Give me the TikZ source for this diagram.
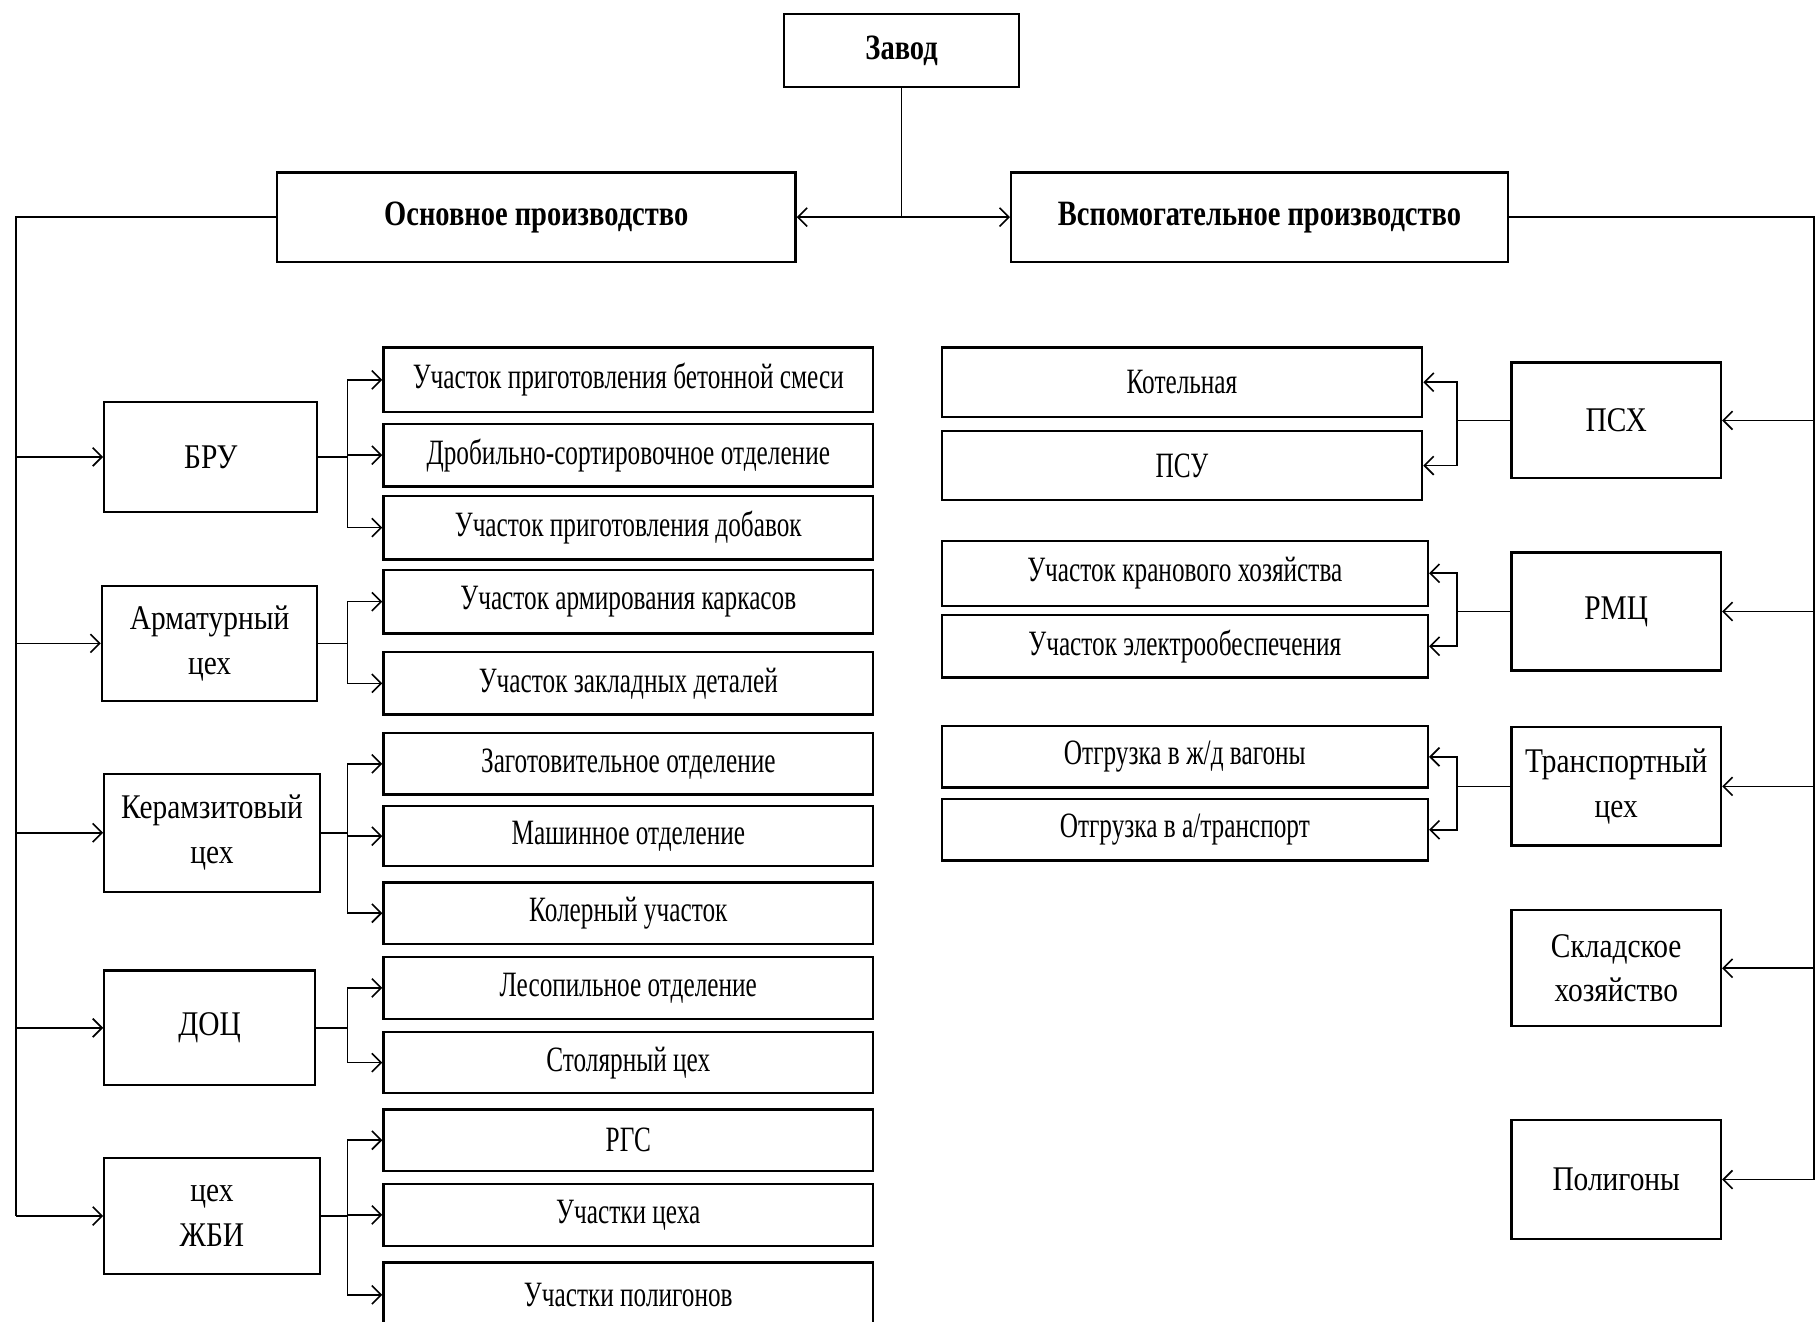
\documentclass[tikz,border=0pt]{standalone}
\usepackage{fontspec}
\setmainfont{Liberation Serif}
\newfontfamily\condf[FakeStretch=0.71]{Liberation Serif}
\newfontfamily\labf[FakeStretch=0.85]{Liberation Serif}
\newfontfamily\headf[FakeStretch=0.8]{Liberation Serif}
\usetikzlibrary{arrows.meta}
\begin{document}
\begin{tikzpicture}[x=0.02cm,y=-0.02cm,
  box/.style={draw,line width=1.1pt,inner sep=0pt,align=center},
  sub/.style={box,font=\condf\fontsize{17.5}{20}\selectfont},
  lab/.style={box,font=\labf\fontsize{17}{22}\selectfont},
  head/.style={box,font=\headf\bfseries\fontsize{17.5}{20}\selectfont},
  conn/.style={line width=0.8pt},
  arr/.style={conn,-{Straight Barb[length=1.6mm,width=3.2mm]}}]
\useasboundingbox (0,0) rectangle (1568,1141);
% top level
\node[head,minimum width=4.06cm,minimum height=1.26cm] (zavod) at (778.5,43.5) {Завод};
\node[head,minimum width=8.96cm,minimum height=1.54cm] (osn) at (463,187.5) {Основное производство};
\node[head,minimum width=8.58cm,minimum height=1.54cm] (vsp) at (1087.5,187.5) {Вспомогательное производство};
% left column
\node[lab,minimum width=3.68cm,minimum height=1.9cm] (bru) at (182,394.5) {БРУ};
\node[lab,minimum width=3.72cm,minimum height=1.98cm] (arm) at (181,555.5) {Арматурный\\цех};
\node[lab,minimum width=3.72cm,minimum height=2.04cm] (ker) at (183,719) {Керамзитовый\\цех};
\node[lab,minimum width=3.64cm,minimum height=1.98cm] (doc) at (181,887.5) {ДОЦ};
\node[lab,minimum width=3.72cm,minimum height=2.0cm] (zbi) at (183,1050) {цех\\ЖБИ};
% sub boxes left
\node[sub,minimum width=8.46cm,minimum height=1.12cm] (s1) at (542.5,328) {Участок приготовления бетонной смеси};
\node[sub,minimum width=8.46cm,minimum height=1.08cm] (s2) at (542.5,393) {Дробильно-сортировочное отделение};
\node[sub,minimum width=8.46cm,minimum height=1.1cm] (s3) at (542.5,455.5) {Участок приготовления добавок};
\node[sub,minimum width=8.46cm,minimum height=1.1cm] (s4) at (542.5,519.5) {Участок армирования каркасов};
\node[sub,minimum width=8.46cm,minimum height=1.08cm] (s5) at (542.5,590) {Участок закладных деталей};
\node[sub,minimum width=8.46cm,minimum height=1.06cm] (s6) at (542.5,659.5) {Заготовительное отделение};
\node[sub,minimum width=8.46cm,minimum height=1.04cm] (s7) at (542.5,722) {Машинное отделение};
\node[sub,minimum width=8.46cm,minimum height=1.06cm] (s8) at (542.5,788.5) {Колерный участок};
\node[sub,minimum width=8.46cm,minimum height=1.08cm] (s9) at (542.5,853) {Лесопильное отделение};
\node[sub,minimum width=8.46cm,minimum height=1.06cm] (s10) at (542.5,917.5) {Столярный цех};
\node[sub,minimum width=8.46cm,minimum height=1.06cm] (s11) at (542.5,984.5) {РГС};
\node[sub,minimum width=8.46cm,minimum height=1.08cm] (s12) at (542.5,1049) {Участки цеха};
\node[sub,minimum width=8.46cm,minimum height=1.12cm] (s13) at (542.5,1118) {Участки полигонов};
% right column
\node[lab,minimum width=3.62cm,minimum height=2.0cm] (psx) at (1395.5,363) {ПСХ};
\node[lab,minimum width=3.62cm,minimum height=2.04cm] (rmc) at (1395.5,528) {РМЦ};
\node[lab,minimum width=3.62cm,minimum height=2.04cm] (trc) at (1395.5,679) {Транспортный\\цех};
\node[lab,minimum width=3.62cm,minimum height=2.0cm] (skl) at (1395.5,836) {Складское\\хозяйство};
\node[lab,minimum width=3.62cm,minimum height=2.06cm] (pol) at (1395.5,1018.5) {Полигоны};
% sub boxes right
\node[sub,minimum width=8.3cm,minimum height=1.2cm] (r1) at (1020.5,330) {Котельная};
\node[sub,minimum width=8.3cm,minimum height=1.2cm] (r2) at (1020.5,402) {ПСУ};
\node[sub,minimum width=8.4cm,minimum height=1.12cm] (r3) at (1023,495) {Участок кранового хозяйства};
\node[sub,minimum width=8.4cm,minimum height=1.08cm] (r4) at (1023,558) {Участок электрообеспечения};
\node[sub,minimum width=8.4cm,minimum height=1.06cm] (r5) at (1023,653.5) {Отгрузка в ж/д вагоны};
\node[sub,minimum width=8.4cm,minimum height=1.06cm] (r6) at (1023,716.5) {Отгрузка в а/транспорт};
% coordinates for buses
\coordinate (L) at (14,0);
\coordinate (R) at (1566,0);
\coordinate (BL) at (300,0);
\coordinate (BR) at (1258,0);
% top connectors
\draw[conn] (zavod.south) -- (zavod.south |- osn.east) coordinate (j);
\draw[arr] (j) -- (osn.east);
\draw[arr] (j) -- (vsp.west);
% left trunk
\draw[conn] (osn.west) -| (L |- zbi.west);
\foreach \n in {bru,arm,ker,doc,zbi} \draw[arr] (L |- \n.west) -- (\n.west);
% right trunk
\draw[conn] (vsp.east) -| (R |- pol.east);
\foreach \n in {psx,rmc,trc,skl,pol} \draw[arr] (R |- \n.east) -- (\n.east);
% left sub buses
\foreach \p/\l in {bru/s1,bru/s2,bru/s3,arm/s4,arm/s5,ker/s6,ker/s7,ker/s8,doc/s9,doc/s10,zbi/s11,zbi/s12,zbi/s13}
  \draw[arr] (\p.east) -- (\p.east -| BL) |- (\l.west);
% right sub buses
\foreach \p/\l in {psx/r1,psx/r2,rmc/r3,rmc/r4,trc/r5,trc/r6}
  \draw[arr] (\p.west) -- (\p.west -| BR) |- (\l.east);
\end{tikzpicture}
\end{document}
